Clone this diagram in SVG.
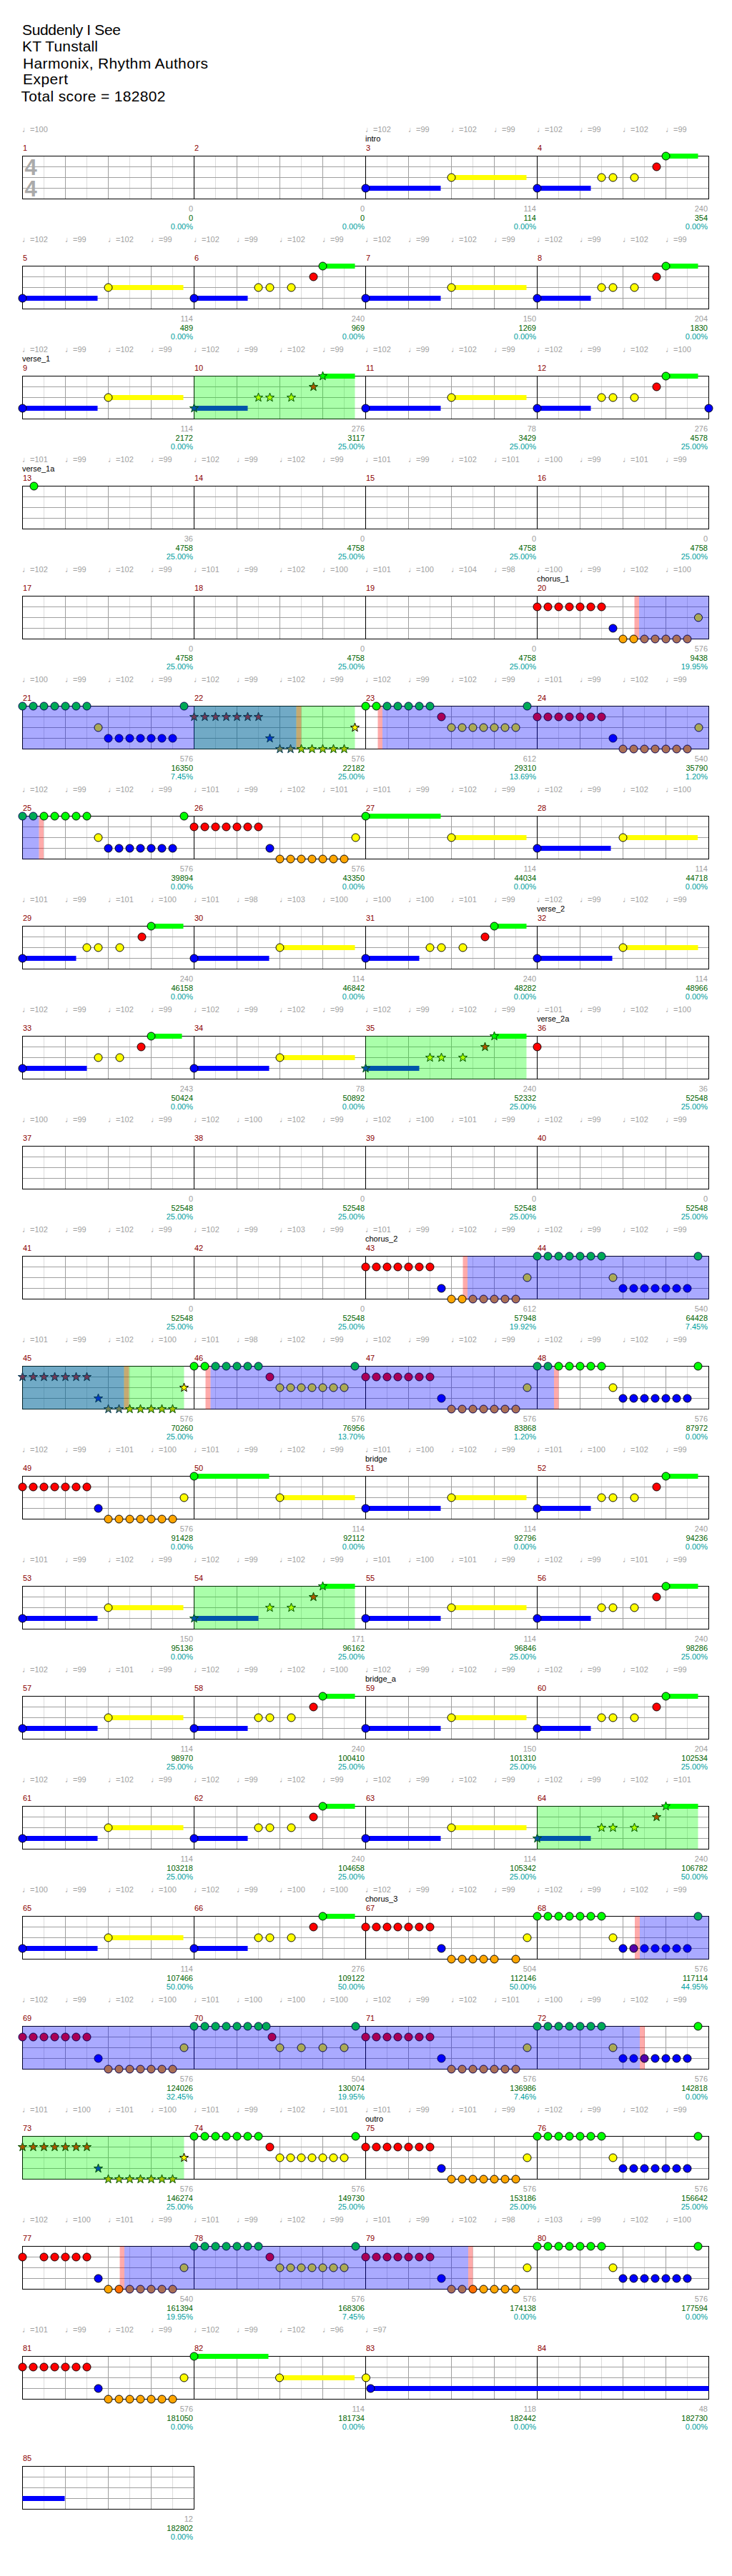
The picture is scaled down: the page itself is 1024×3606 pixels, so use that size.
<svg xmlns="http://www.w3.org/2000/svg" width="1024" height="3606" viewBox="0 0 1024 3606">
<style>
.lt{stroke:#dcdcdc;stroke-width:1;fill:none}
.md{stroke:#a0a0a0;stroke-width:1;fill:none}
.bk{stroke:#000;stroke-width:1;fill:none}
.n{stroke:#000;stroke-width:1}
.g{fill:#00ff00}.r{fill:#ff0000}.y{fill:#ffff00}.b{fill:#0000ff}.o{fill:#ffa500}.op{fill:#ff6e00}.bp{fill:#5500aa}
.gb{fill:#00aa55;stroke:#000055}.rb{fill:#aa0055;stroke:#000055}.yb{fill:#aaaa55;stroke:#000055}.ob{fill:#aa6e55;stroke:#000055}.bb{fill:#0000ff;stroke:#000055}
.sG{fill:#00ff00;stroke:#005500}.sR{fill:#aa5500;stroke:#005500}.sY{fill:#aaff00;stroke:#005500}.sB{fill:#0055aa;stroke:#005500}.sO{fill:#aac300;stroke:#005500}
.tR{fill:#713955;stroke:#003955}.tB{fill:#0039c6;stroke:#003955}.tO{fill:#718255;stroke:#003955}
.sY0{fill:#ffff00;stroke:#000}
.Lg{fill:#00ff00}.Ly{fill:#ffff00}.Lb{fill:#0000ff}.Lbs{fill:#0055aa}
.oG{fill:#00ff00;fill-opacity:.333}.oB{fill:#0000ff;fill-opacity:.333}.oP{fill:#ff0000;fill-opacity:.333}
text{font-family:"Liberation Sans","DejaVu Sans",sans-serif;font-size:11px;fill:#000}
.tm{fill:#a0a0a0}.mn{fill:#8b0000}
.s1{fill:#a0a0a0;text-anchor:end}.s2{fill:#006400;text-anchor:end}.s3{fill:#00a0a0;text-anchor:end}
.hd{font-size:21px}
.ts{font-size:31px;font-weight:bold;fill:#aaaaaa}
</style>
<defs>
<polygon id="st" points="0,-6.5 1.53,-2.1 6.18,-2.01 2.47,0.8 3.82,5.26 0,2.6 -3.82,5.26 -2.47,0.8 -6.18,-2.01 -1.53,-2.1"/>
<g id="c7"><circle r="5.5"/><circle cx="15" r="5.5"/><circle cx="30" r="5.5"/><circle cx="45" r="5.5"/><circle cx="60" r="5.5"/><circle cx="75" r="5.5"/><circle cx="90" r="5.5"/></g>
<g id="s7"><use href="#st"/><use href="#st" x="15"/><use href="#st" x="30"/><use href="#st" x="45"/><use href="#st" x="60"/><use href="#st" x="75"/><use href="#st" x="90"/></g>
<g id="gm">
<path class="lt" d="M30 .5V60.5M90 .5V60.5M150 .5V60.5M210 .5V60.5"/>
<path class="md" d="M60 .5V60.5M120 .5V60.5M180 .5V60.5M0 15.5H240M0 30.5H240M0 45.5H240"/>
</g>
<g id="r4">
<use href="#gm" x="31.5"/><use href="#gm" x="271.5"/><use href="#gm" x="511.5"/><use href="#gm" x="751.5"/>
<path class="bk" d="M271.5 .5V60.5M511.5 .5V60.5M751.5 .5V60.5"/>
<rect class="bk" x="31.5" y=".5" width="960" height="60"/>
</g>
<g id="pA"><rect class="Lb" y="42" width="105" height="7"/><rect class="Ly" x="120" y="27" width="105" height="7"/><circle class="n b" cy="45.5" r="5.5"/><circle class="n y" cx="120" cy="30.5" r="5.5"/></g>
<g id="pB"><rect class="Lb" y="42" width="75" height="7"/><rect class="Lg" x="180" y="-3" width="45" height="7"/><circle class="n b" cy="45.5" r="5.5"/><circle class="n y" cx="90" cy="30.5" r="5.5"/><circle class="n y" cx="106" cy="30.5" r="5.5"/><circle class="n y" cx="136" cy="30.5" r="5.5"/><circle class="n r" cx="167" cy="15.5" r="5.5"/><circle class="n g" cx="180" cy=".5" r="5.5"/></g>
<g id="pC"><rect class="Lb" y="42" width="90" height="7"/><rect class="Lg" x="180" y="-3" width="43" height="7"/><circle class="n b" cy="45.5" r="5.5"/><circle class="n y" cx="106" cy="30.5" r="5.5"/><circle class="n y" cx="136" cy="30.5" r="5.5"/><circle class="n r" cx="166" cy="15.5" r="5.5"/><circle class="n g" cx="180" cy=".5" r="5.5"/></g>
<g id="pS"><rect class="oG" y=".5" width="225" height="60"/><rect class="Lbs" y="42" width="75" height="7"/><rect class="Lg" x="180" y="-3" width="45" height="7"/><use href="#st" class="sB" y="45.5"/><use href="#st" class="sY" x="90" y="30.5"/><use href="#st" class="sY" x="106" y="30.5"/><use href="#st" class="sY" x="136" y="30.5"/><use href="#st" class="sR" x="167" y="15.5"/><use href="#st" class="sG" x="180" y=".5"/></g>
<g id="pS2"><rect class="oG" y=".5" width="225" height="60"/><rect class="Lbs" y="42" width="90" height="7"/><rect class="Lg" x="180" y="-3" width="45" height="7"/><use href="#st" class="sB" y="45.5"/><use href="#st" class="sY" x="106" y="30.5"/><use href="#st" class="sY" x="136" y="30.5"/><use href="#st" class="sR" x="167" y="15.5"/><use href="#st" class="sG" x="180" y=".5"/></g>
<g id="pD"><rect class="Lg" y="-3" width="105" height="7"/><rect class="Ly" x="120" y="27" width="105" height="7"/><circle class="n g" cy=".5" r="5.5"/><circle class="n y" cx="120" cy="30.5" r="5.5"/></g>
<g id="kR"><use href="#c7" class="n r" y="15.5"/><circle class="n b" cx="106" cy="45.5" r="5.5"/><use href="#c7" class="n o" x="120" y="60.5"/><circle class="n y" cx="226" cy="30.5" r="5.5"/></g>
<g id="kG"><use href="#c7" class="n g" y=".5"/><circle class="n y" cx="106" cy="30.5" r="5.5"/><use href="#c7" class="n b" x="120" y="45.5"/><circle class="n g" cx="225" cy=".5" r="5.5"/></g>
<g id="kRb"><use href="#c7" class="n rb" y="15.5"/><circle class="n bb" cx="106" cy="45.5" r="5.5"/><use href="#c7" class="n ob" x="120" y="60.5"/><circle class="n yb" cx="226" cy="30.5" r="5.5"/></g>
</defs>
<rect width="1024" height="3606" fill="#fff"/>
<g id="header">
<text class="hd" x="31" y="49.3" textLength="138" lengthAdjust="spacing">Suddenly I See</text>
<text class="hd" x="31" y="72.3" textLength="106" lengthAdjust="spacing">KT Tunstall</text>
<text class="hd" x="32" y="95.7" textLength="259" lengthAdjust="spacing">Harmonix, Rhythm Authors</text>
<text class="hd" x="32" y="118.3" textLength="63" lengthAdjust="spacing">Expert</text>
<text class="hd" x="29.5" y="141.7" textLength="202" lengthAdjust="spacing">Total score = 182802</text>
</g>

<g id="row1" transform="translate(0,218)">
<use href="#r4"/>
<text class="ts" x="34.5" y="27">4</text><text class="ts" x="34.5" y="57">4</text>
<g id="m3" transform="translate(511.5,0)"><use href="#pA"/></g>
<g id="m4" transform="translate(751.5,0)"><use href="#pB"/></g>
<text class="tm" y="-33"><tspan x="31">♩=100</tspan><tspan x="511">♩=102</tspan><tspan x="571">♩=99</tspan><tspan x="631">♩=102</tspan><tspan x="691">♩=99</tspan><tspan x="751">♩=102</tspan><tspan x="811">♩=99</tspan><tspan x="871">♩=102</tspan><tspan x="931">♩=99</tspan></text>
<text x="511" y="-20">intro</text>
<text class="mn" y="-7"><tspan x="32">1</tspan><tspan x="272">2</tspan><tspan x="512">3</tspan><tspan x="752">4</tspan></text>
<text class="s1" y="78"><tspan x="270">0</tspan><tspan x="510">0</tspan><tspan x="750">114</tspan><tspan x="990">240</tspan></text>
<text class="s2" y="91"><tspan x="270">0</tspan><tspan x="510">0</tspan><tspan x="750">114</tspan><tspan x="990">354</tspan></text>
<text class="s3" y="103"><tspan x="270">0.00%</tspan><tspan x="510">0.00%</tspan><tspan x="750">0.00%</tspan><tspan x="990">0.00%</tspan></text>
</g>

<g id="row2" transform="translate(0,372)">
<use href="#r4"/>
<g id="m5" transform="translate(31.5,0)"><use href="#pA"/></g>
<g id="m6" transform="translate(271.5,0)"><use href="#pB"/></g>
<g id="m7" transform="translate(511.5,0)"><use href="#pA"/></g>
<g id="m8" transform="translate(751.5,0)"><use href="#pB"/></g>
<text class="tm" y="-33"><tspan x="31">♩=102</tspan><tspan x="91">♩=99</tspan><tspan x="151">♩=102</tspan><tspan x="211">♩=99</tspan><tspan x="271">♩=102</tspan><tspan x="331">♩=99</tspan><tspan x="391">♩=102</tspan><tspan x="451">♩=99</tspan><tspan x="511">♩=102</tspan><tspan x="571">♩=99</tspan><tspan x="631">♩=102</tspan><tspan x="691">♩=99</tspan><tspan x="751">♩=102</tspan><tspan x="811">♩=99</tspan><tspan x="871">♩=102</tspan><tspan x="931">♩=99</tspan></text>
<text class="mn" y="-7"><tspan x="32">5</tspan><tspan x="272">6</tspan><tspan x="512">7</tspan><tspan x="752">8</tspan></text>
<text class="s1" y="78"><tspan x="270">114</tspan><tspan x="510">240</tspan><tspan x="750">150</tspan><tspan x="990">204</tspan></text>
<text class="s2" y="91"><tspan x="270">489</tspan><tspan x="510">969</tspan><tspan x="750">1269</tspan><tspan x="990">1830</tspan></text>
<text class="s3" y="103"><tspan x="270">0.00%</tspan><tspan x="510">0.00%</tspan><tspan x="750">0.00%</tspan><tspan x="990">0.00%</tspan></text>
</g>

<g id="row3" transform="translate(0,526)">
<use href="#r4"/>
<g id="m9" transform="translate(31.5,0)"><use href="#pA"/></g>
<g id="m10" transform="translate(271.5,0)"><use href="#pS"/></g>
<g id="m11" transform="translate(511.5,0)"><use href="#pA"/></g>
<g id="m12" transform="translate(751.5,0)"><use href="#pB"/><circle class="n b" cx="240" cy="45.5" r="5.5"/></g>
<text class="tm" y="-33"><tspan x="31">♩=102</tspan><tspan x="91">♩=99</tspan><tspan x="151">♩=102</tspan><tspan x="211">♩=99</tspan><tspan x="271">♩=102</tspan><tspan x="331">♩=99</tspan><tspan x="391">♩=102</tspan><tspan x="451">♩=99</tspan><tspan x="511">♩=102</tspan><tspan x="571">♩=99</tspan><tspan x="631">♩=102</tspan><tspan x="691">♩=99</tspan><tspan x="751">♩=102</tspan><tspan x="811">♩=99</tspan><tspan x="871">♩=102</tspan><tspan x="931">♩=100</tspan></text>
<text x="31" y="-20">verse_1</text>
<text class="mn" y="-7"><tspan x="32">9</tspan><tspan x="272">10</tspan><tspan x="512">11</tspan><tspan x="752">12</tspan></text>
<text class="s1" y="78"><tspan x="270">114</tspan><tspan x="510">276</tspan><tspan x="750">78</tspan><tspan x="990">276</tspan></text>
<text class="s2" y="91"><tspan x="270">2172</tspan><tspan x="510">3117</tspan><tspan x="750">3429</tspan><tspan x="990">4578</tspan></text>
<text class="s3" y="103"><tspan x="270">0.00%</tspan><tspan x="510">25.00%</tspan><tspan x="750">25.00%</tspan><tspan x="990">25.00%</tspan></text>
</g>

<g id="row4" transform="translate(0,680)">
<use href="#r4"/>
<g id="m13" transform="translate(31.5,0)"><circle class="n g" cx="16" cy=".5" r="5.5"/></g>
<text class="tm" y="-33"><tspan x="31">♩=101</tspan><tspan x="91">♩=99</tspan><tspan x="151">♩=102</tspan><tspan x="211">♩=99</tspan><tspan x="271">♩=102</tspan><tspan x="331">♩=99</tspan><tspan x="391">♩=102</tspan><tspan x="451">♩=99</tspan><tspan x="511">♩=101</tspan><tspan x="571">♩=99</tspan><tspan x="631">♩=102</tspan><tspan x="691">♩=101</tspan><tspan x="751">♩=100</tspan><tspan x="811">♩=99</tspan><tspan x="871">♩=101</tspan><tspan x="931">♩=99</tspan></text>
<text x="31" y="-20">verse_1a</text>
<text class="mn" y="-7"><tspan x="32">13</tspan><tspan x="272">14</tspan><tspan x="512">15</tspan><tspan x="752">16</tspan></text>
<text class="s1" y="78"><tspan x="270">36</tspan><tspan x="510">0</tspan><tspan x="750">0</tspan><tspan x="990">0</tspan></text>
<text class="s2" y="91"><tspan x="270">4758</tspan><tspan x="510">4758</tspan><tspan x="750">4758</tspan><tspan x="990">4758</tspan></text>
<text class="s3" y="103"><tspan x="270">25.00%</tspan><tspan x="510">25.00%</tspan><tspan x="750">25.00%</tspan><tspan x="990">25.00%</tspan></text>
</g>

<g id="row5" transform="translate(0,834)">
<use href="#r4"/>
<rect class="oP" x="887.5" y=".5" width="6.5" height="60"/><rect class="oB" x="894" y=".5" width="97.5" height="60"/>
<g id="m20" transform="translate(751.5,0)"><use href="#c7" class="n r" y="15.5"/><circle class="n b" cx="106" cy="45.5" r="5.5"/><circle class="n o" cx="120" cy="60.5" r="5.5"/><circle class="n o" cx="135" cy="60.5" r="5.5"/><circle class="n ob" cx="150" cy="60.5" r="5.5"/><circle class="n ob" cx="165" cy="60.5" r="5.5"/><circle class="n ob" cx="180" cy="60.5" r="5.5"/><circle class="n ob" cx="195" cy="60.5" r="5.5"/><circle class="n ob" cx="210" cy="60.5" r="5.5"/><circle class="n yb" cx="225.5" cy="30.5" r="5.5"/></g>
<text class="tm" y="-33"><tspan x="31">♩=102</tspan><tspan x="91">♩=99</tspan><tspan x="151">♩=102</tspan><tspan x="211">♩=99</tspan><tspan x="271">♩=101</tspan><tspan x="331">♩=99</tspan><tspan x="391">♩=102</tspan><tspan x="451">♩=100</tspan><tspan x="511">♩=101</tspan><tspan x="571">♩=100</tspan><tspan x="631">♩=104</tspan><tspan x="691">♩=98</tspan><tspan x="751">♩=100</tspan><tspan x="811">♩=99</tspan><tspan x="871">♩=102</tspan><tspan x="931">♩=100</tspan></text>
<text x="751" y="-20">chorus_1</text>
<text class="mn" y="-7"><tspan x="32">17</tspan><tspan x="272">18</tspan><tspan x="512">19</tspan><tspan x="752">20</tspan></text>
<text class="s1" y="78"><tspan x="270">0</tspan><tspan x="510">0</tspan><tspan x="750">0</tspan><tspan x="990">576</tspan></text>
<text class="s2" y="91"><tspan x="270">4758</tspan><tspan x="510">4758</tspan><tspan x="750">4758</tspan><tspan x="990">9438</tspan></text>
<text class="s3" y="103"><tspan x="270">25.00%</tspan><tspan x="510">25.00%</tspan><tspan x="750">25.00%</tspan><tspan x="990">19.95%</tspan></text>
</g>

<g id="row6" transform="translate(0,988)">
<use href="#r4"/>
<rect class="oG" x="271.5" y=".5" width="225" height="60"/><rect class="oB" x="31.5" y=".5" width="383" height="60"/><rect class="oP" x="414.5" y=".5" width="7" height="60"/><rect class="oP" x="528.5" y=".5" width="6.5" height="60"/><rect class="oB" x="535" y=".5" width="456.5" height="60"/>
<g id="m21" transform="translate(31.5,0)"><use href="#c7" class="n gb" y=".5"/><circle class="n yb" cx="106" cy="30.5" r="5.5"/><use href="#c7" class="n bb" x="120" y="45.5"/><circle class="n gb" cx="226" cy=".5" r="5.5"/></g>
<g id="m22" transform="translate(271.5,0)"><use href="#s7" class="tR" y="15.5"/><use href="#st" class="tB" x="106" y="45.5"/><use href="#st" class="tO" x="120" y="60.5"/><use href="#st" class="tO" x="135" y="60.5"/><use href="#st" class="sO" x="150" y="60.5"/><use href="#st" class="sO" x="165" y="60.5"/><use href="#st" class="sO" x="180" y="60.5"/><use href="#st" class="sO" x="195" y="60.5"/><use href="#st" class="sO" x="210" y="60.5"/><use href="#st" class="sY0" x="225" y="30.5"/></g>
<g id="m23" transform="translate(511.5,0)"><circle class="n g" cy=".5" r="5.5"/><circle class="n g" cx="15" cy=".5" r="5.5"/><circle class="n gb" cx="30" cy=".5" r="5.5"/><circle class="n gb" cx="45" cy=".5" r="5.5"/><circle class="n gb" cx="60" cy=".5" r="5.5"/><circle class="n gb" cx="75" cy=".5" r="5.5"/><circle class="n gb" cx="90" cy=".5" r="5.5"/><circle class="n rb" cx="106" cy="15.5" r="5.5"/><use href="#c7" class="n yb" x="120" y="30.5"/><circle class="n gb" cx="226" cy=".5" r="5.5"/></g>
<g id="m24" transform="translate(751.5,0)"><use href="#kRb"/></g>
<text class="tm" y="-33"><tspan x="31">♩=100</tspan><tspan x="91">♩=99</tspan><tspan x="151">♩=102</tspan><tspan x="211">♩=99</tspan><tspan x="271">♩=102</tspan><tspan x="331">♩=99</tspan><tspan x="391">♩=102</tspan><tspan x="451">♩=99</tspan><tspan x="511">♩=102</tspan><tspan x="571">♩=99</tspan><tspan x="631">♩=102</tspan><tspan x="691">♩=99</tspan><tspan x="751">♩=101</tspan><tspan x="811">♩=99</tspan><tspan x="871">♩=102</tspan><tspan x="931">♩=99</tspan></text>
<text class="mn" y="-7"><tspan x="32">21</tspan><tspan x="272">22</tspan><tspan x="512">23</tspan><tspan x="752">24</tspan></text>
<text class="s1" y="78"><tspan x="270">576</tspan><tspan x="510">576</tspan><tspan x="750">612</tspan><tspan x="990">540</tspan></text>
<text class="s2" y="91"><tspan x="270">16350</tspan><tspan x="510">22182</tspan><tspan x="750">29310</tspan><tspan x="990">35790</tspan></text>
<text class="s3" y="103"><tspan x="270">7.45%</tspan><tspan x="510">25.00%</tspan><tspan x="750">13.69%</tspan><tspan x="990">1.20%</tspan></text>
</g>

<g id="row7" transform="translate(0,1142)">
<use href="#r4"/>
<rect class="oB" x="31.5" y=".5" width="23" height="60"/><rect class="oP" x="54.5" y=".5" width="6.5" height="60"/>
<g id="m25" transform="translate(31.5,0)"><circle class="n gb" cy=".5" r="5.5"/><circle class="n gb" cx="15" cy=".5" r="5.5"/><circle class="n g" cx="30" cy=".5" r="5.5"/><circle class="n g" cx="45" cy=".5" r="5.5"/><circle class="n g" cx="60" cy=".5" r="5.5"/><circle class="n g" cx="75" cy=".5" r="5.5"/><circle class="n g" cx="90" cy=".5" r="5.5"/><circle class="n y" cx="106" cy="30.5" r="5.5"/><use href="#c7" class="n b" x="120" y="45.5"/><circle class="n g" cx="226" cy=".5" r="5.5"/></g>
<g id="m26" transform="translate(271.5,0)"><use href="#kR"/></g>
<g id="m27" transform="translate(511.5,0)"><use href="#pD"/></g>
<g id="m28" transform="translate(751.5,0)"><rect class="Lb" y="42" width="103" height="7"/><rect class="Ly" x="120" y="27" width="104.5" height="7"/><circle class="n b" cy="45.5" r="5.5"/><circle class="n y" cx="120" cy="30.5" r="5.5"/></g>
<text class="tm" y="-33"><tspan x="31">♩=102</tspan><tspan x="91">♩=99</tspan><tspan x="151">♩=102</tspan><tspan x="211">♩=99</tspan><tspan x="271">♩=101</tspan><tspan x="331">♩=99</tspan><tspan x="391">♩=102</tspan><tspan x="451">♩=101</tspan><tspan x="511">♩=101</tspan><tspan x="571">♩=99</tspan><tspan x="631">♩=102</tspan><tspan x="691">♩=99</tspan><tspan x="751">♩=102</tspan><tspan x="811">♩=99</tspan><tspan x="871">♩=102</tspan><tspan x="931">♩=100</tspan></text>
<text class="mn" y="-7"><tspan x="32">25</tspan><tspan x="272">26</tspan><tspan x="512">27</tspan><tspan x="752">28</tspan></text>
<text class="s1" y="78"><tspan x="270">576</tspan><tspan x="510">576</tspan><tspan x="750">114</tspan><tspan x="990">114</tspan></text>
<text class="s2" y="91"><tspan x="270">39894</tspan><tspan x="510">43350</tspan><tspan x="750">44034</tspan><tspan x="990">44718</tspan></text>
<text class="s3" y="103"><tspan x="270">0.00%</tspan><tspan x="510">0.00%</tspan><tspan x="750">0.00%</tspan><tspan x="990">0.00%</tspan></text>
</g>

<g id="row8" transform="translate(0,1296)">
<use href="#r4"/>
<g id="m29" transform="translate(31.5,0)"><use href="#pB"/></g>
<g id="m30" transform="translate(271.5,0)"><use href="#pA"/></g>
<g id="m31" transform="translate(511.5,0)"><use href="#pB"/></g>
<g id="m32" transform="translate(751.5,0)"><use href="#pA"/></g>
<text class="tm" y="-33"><tspan x="31">♩=101</tspan><tspan x="91">♩=99</tspan><tspan x="151">♩=101</tspan><tspan x="211">♩=100</tspan><tspan x="271">♩=101</tspan><tspan x="331">♩=98</tspan><tspan x="391">♩=103</tspan><tspan x="451">♩=100</tspan><tspan x="511">♩=100</tspan><tspan x="571">♩=100</tspan><tspan x="631">♩=101</tspan><tspan x="691">♩=99</tspan><tspan x="751">♩=102</tspan><tspan x="811">♩=99</tspan><tspan x="871">♩=102</tspan><tspan x="931">♩=99</tspan></text>
<text x="751" y="-20">verse_2</text>
<text class="mn" y="-7"><tspan x="32">29</tspan><tspan x="272">30</tspan><tspan x="512">31</tspan><tspan x="752">32</tspan></text>
<text class="s1" y="78"><tspan x="270">240</tspan><tspan x="510">114</tspan><tspan x="750">240</tspan><tspan x="990">114</tspan></text>
<text class="s2" y="91"><tspan x="270">46158</tspan><tspan x="510">46842</tspan><tspan x="750">48282</tspan><tspan x="990">48966</tspan></text>
<text class="s3" y="103"><tspan x="270">0.00%</tspan><tspan x="510">0.00%</tspan><tspan x="750">0.00%</tspan><tspan x="990">0.00%</tspan></text>
</g>

<g id="row9" transform="translate(0,1450)">
<use href="#r4"/>
<g id="m33" transform="translate(31.5,0)"><use href="#pC"/></g>
<g id="m34" transform="translate(271.5,0)"><use href="#pA"/></g>
<g id="m35" transform="translate(511.5,0)"><use href="#pS"/></g>
<g id="m36" transform="translate(751.5,0)"><circle class="n r" cy="15.5" r="5.5"/></g>
<text class="tm" y="-33"><tspan x="31">♩=102</tspan><tspan x="91">♩=99</tspan><tspan x="151">♩=102</tspan><tspan x="211">♩=99</tspan><tspan x="271">♩=102</tspan><tspan x="331">♩=99</tspan><tspan x="391">♩=102</tspan><tspan x="451">♩=99</tspan><tspan x="511">♩=102</tspan><tspan x="571">♩=99</tspan><tspan x="631">♩=102</tspan><tspan x="691">♩=99</tspan><tspan x="751">♩=101</tspan><tspan x="811">♩=99</tspan><tspan x="871">♩=102</tspan><tspan x="931">♩=100</tspan></text>
<text x="751" y="-20">verse_2a</text>
<text class="mn" y="-7"><tspan x="32">33</tspan><tspan x="272">34</tspan><tspan x="512">35</tspan><tspan x="752">36</tspan></text>
<text class="s1" y="78"><tspan x="270">243</tspan><tspan x="510">78</tspan><tspan x="750">240</tspan><tspan x="990">36</tspan></text>
<text class="s2" y="91"><tspan x="270">50424</tspan><tspan x="510">50892</tspan><tspan x="750">52332</tspan><tspan x="990">52548</tspan></text>
<text class="s3" y="103"><tspan x="270">0.00%</tspan><tspan x="510">0.00%</tspan><tspan x="750">25.00%</tspan><tspan x="990">25.00%</tspan></text>
</g>

<g id="row10" transform="translate(0,1604)">
<use href="#r4"/>
<text class="tm" y="-33"><tspan x="31">♩=100</tspan><tspan x="91">♩=99</tspan><tspan x="151">♩=102</tspan><tspan x="211">♩=99</tspan><tspan x="271">♩=102</tspan><tspan x="331">♩=100</tspan><tspan x="391">♩=102</tspan><tspan x="451">♩=99</tspan><tspan x="511">♩=102</tspan><tspan x="571">♩=100</tspan><tspan x="631">♩=101</tspan><tspan x="691">♩=99</tspan><tspan x="751">♩=102</tspan><tspan x="811">♩=99</tspan><tspan x="871">♩=102</tspan><tspan x="931">♩=99</tspan></text>
<text class="mn" y="-7"><tspan x="32">37</tspan><tspan x="272">38</tspan><tspan x="512">39</tspan><tspan x="752">40</tspan></text>
<text class="s1" y="78"><tspan x="270">0</tspan><tspan x="510">0</tspan><tspan x="750">0</tspan><tspan x="990">0</tspan></text>
<text class="s2" y="91"><tspan x="270">52548</tspan><tspan x="510">52548</tspan><tspan x="750">52548</tspan><tspan x="990">52548</tspan></text>
<text class="s3" y="103"><tspan x="270">25.00%</tspan><tspan x="510">25.00%</tspan><tspan x="750">25.00%</tspan><tspan x="990">25.00%</tspan></text>
</g>

<g id="row11" transform="translate(0,1758)">
<use href="#r4"/>
<rect class="oP" x="647.5" y=".5" width="6.5" height="60"/><rect class="oB" x="654" y=".5" width="337.5" height="60"/>
<g id="m43" transform="translate(511.5,0)"><use href="#c7" class="n r" y="15.5"/><circle class="n b" cx="106" cy="45.5" r="5.5"/><circle class="n o" cx="120" cy="60.5" r="5.5"/><circle class="n o" cx="135" cy="60.5" r="5.5"/><circle class="n ob" cx="150" cy="60.5" r="5.5"/><circle class="n ob" cx="165" cy="60.5" r="5.5"/><circle class="n ob" cx="180" cy="60.5" r="5.5"/><circle class="n ob" cx="195" cy="60.5" r="5.5"/><circle class="n ob" cx="210" cy="60.5" r="5.5"/><circle class="n yb" cx="226" cy="30.5" r="5.5"/></g>
<g id="m44" transform="translate(751.5,0)"><use href="#c7" class="n gb" y=".5"/><circle class="n yb" cx="106" cy="30.5" r="5.5"/><use href="#c7" class="n bb" x="120" y="45.5"/><circle class="n gb" cx="225" cy=".5" r="5.5"/></g>
<text class="tm" y="-33"><tspan x="31">♩=102</tspan><tspan x="91">♩=99</tspan><tspan x="151">♩=102</tspan><tspan x="211">♩=99</tspan><tspan x="271">♩=102</tspan><tspan x="331">♩=99</tspan><tspan x="391">♩=103</tspan><tspan x="451">♩=99</tspan><tspan x="511">♩=101</tspan><tspan x="571">♩=99</tspan><tspan x="631">♩=102</tspan><tspan x="691">♩=99</tspan><tspan x="751">♩=102</tspan><tspan x="811">♩=99</tspan><tspan x="871">♩=102</tspan><tspan x="931">♩=99</tspan></text>
<text x="511" y="-20">chorus_2</text>
<text class="mn" y="-7"><tspan x="32">41</tspan><tspan x="272">42</tspan><tspan x="512">43</tspan><tspan x="752">44</tspan></text>
<text class="s1" y="78"><tspan x="270">0</tspan><tspan x="510">0</tspan><tspan x="750">612</tspan><tspan x="990">540</tspan></text>
<text class="s2" y="91"><tspan x="270">52548</tspan><tspan x="510">52548</tspan><tspan x="750">57948</tspan><tspan x="990">64428</tspan></text>
<text class="s3" y="103"><tspan x="270">25.00%</tspan><tspan x="510">25.00%</tspan><tspan x="750">19.92%</tspan><tspan x="990">7.45%</tspan></text>
</g>

<g id="row12" transform="translate(0,1912)">
<use href="#r4"/>
<rect class="oG" x="31.5" y=".5" width="226" height="60"/><rect class="oB" x="31.5" y=".5" width="142" height="60"/><rect class="oP" x="173.5" y=".5" width="7" height="60"/><rect class="oP" x="287.5" y=".5" width="7" height="60"/><rect class="oB" x="294.5" y=".5" width="480.5" height="60"/><rect class="oP" x="775" y=".5" width="6.5" height="60"/>
<g id="m45" transform="translate(31.5,0)"><use href="#s7" class="tR" y="15.5"/><use href="#st" class="tB" x="106" y="45.5"/><use href="#st" class="tO" x="120" y="60.5"/><use href="#st" class="tO" x="135" y="60.5"/><use href="#st" class="sO" x="150" y="60.5"/><use href="#st" class="sO" x="165" y="60.5"/><use href="#st" class="sO" x="180" y="60.5"/><use href="#st" class="sO" x="195" y="60.5"/><use href="#st" class="sO" x="210" y="60.5"/><use href="#st" class="sY0" x="226" y="30.5"/></g>
<g id="m46" transform="translate(271.5,0)"><circle class="n g" cy=".5" r="5.5"/><circle class="n g" cx="15" cy=".5" r="5.5"/><circle class="n gb" cx="30" cy=".5" r="5.5"/><circle class="n gb" cx="45" cy=".5" r="5.5"/><circle class="n gb" cx="60" cy=".5" r="5.5"/><circle class="n gb" cx="75" cy=".5" r="5.5"/><circle class="n gb" cx="90" cy=".5" r="5.5"/><circle class="n rb" cx="106" cy="15.5" r="5.5"/><use href="#c7" class="n yb" x="120" y="30.5"/><circle class="n gb" cx="225" cy=".5" r="5.5"/></g>
<g id="m47" transform="translate(511.5,0)"><use href="#kRb"/></g>
<g id="m48" transform="translate(751.5,0)"><circle class="n gb" cy=".5" r="5.5"/><circle class="n gb" cx="15" cy=".5" r="5.5"/><circle class="n g" cx="30" cy=".5" r="5.5"/><circle class="n g" cx="45" cy=".5" r="5.5"/><circle class="n g" cx="60" cy=".5" r="5.5"/><circle class="n g" cx="75" cy=".5" r="5.5"/><circle class="n g" cx="90" cy=".5" r="5.5"/><circle class="n y" cx="106" cy="30.5" r="5.5"/><use href="#c7" class="n b" x="120" y="45.5"/><circle class="n g" cx="225" cy=".5" r="5.5"/></g>
<text class="tm" y="-33"><tspan x="31">♩=101</tspan><tspan x="91">♩=99</tspan><tspan x="151">♩=102</tspan><tspan x="211">♩=100</tspan><tspan x="271">♩=101</tspan><tspan x="331">♩=98</tspan><tspan x="391">♩=102</tspan><tspan x="451">♩=99</tspan><tspan x="511">♩=102</tspan><tspan x="571">♩=99</tspan><tspan x="631">♩=102</tspan><tspan x="691">♩=99</tspan><tspan x="751">♩=102</tspan><tspan x="811">♩=99</tspan><tspan x="871">♩=102</tspan><tspan x="931">♩=99</tspan></text>
<text class="mn" y="-7"><tspan x="32">45</tspan><tspan x="272">46</tspan><tspan x="512">47</tspan><tspan x="752">48</tspan></text>
<text class="s1" y="78"><tspan x="270">576</tspan><tspan x="510">576</tspan><tspan x="750">576</tspan><tspan x="990">576</tspan></text>
<text class="s2" y="91"><tspan x="270">70260</tspan><tspan x="510">76956</tspan><tspan x="750">83868</tspan><tspan x="990">87972</tspan></text>
<text class="s3" y="103"><tspan x="270">25.00%</tspan><tspan x="510">13.70%</tspan><tspan x="750">1.20%</tspan><tspan x="990">0.00%</tspan></text>
</g>

<g id="row13" transform="translate(0,2066)">
<use href="#r4"/>
<g id="m49" transform="translate(31.5,0)"><use href="#kR"/></g>
<g id="m50" transform="translate(271.5,0)"><use href="#pD"/></g>
<g id="m51" transform="translate(511.5,0)"><use href="#pA"/></g>
<g id="m52" transform="translate(751.5,0)"><use href="#pB"/></g>
<text class="tm" y="-33"><tspan x="31">♩=102</tspan><tspan x="91">♩=99</tspan><tspan x="151">♩=101</tspan><tspan x="211">♩=100</tspan><tspan x="271">♩=101</tspan><tspan x="331">♩=99</tspan><tspan x="391">♩=102</tspan><tspan x="451">♩=99</tspan><tspan x="511">♩=101</tspan><tspan x="571">♩=100</tspan><tspan x="631">♩=102</tspan><tspan x="691">♩=99</tspan><tspan x="751">♩=101</tspan><tspan x="811">♩=100</tspan><tspan x="871">♩=102</tspan><tspan x="931">♩=99</tspan></text>
<text x="511" y="-20">bridge</text>
<text class="mn" y="-7"><tspan x="32">49</tspan><tspan x="272">50</tspan><tspan x="512">51</tspan><tspan x="752">52</tspan></text>
<text class="s1" y="78"><tspan x="270">576</tspan><tspan x="510">114</tspan><tspan x="750">114</tspan><tspan x="990">240</tspan></text>
<text class="s2" y="91"><tspan x="270">91428</tspan><tspan x="510">92112</tspan><tspan x="750">92796</tspan><tspan x="990">94236</tspan></text>
<text class="s3" y="103"><tspan x="270">0.00%</tspan><tspan x="510">0.00%</tspan><tspan x="750">0.00%</tspan><tspan x="990">0.00%</tspan></text>
</g>

<g id="row14" transform="translate(0,2220)">
<use href="#r4"/>
<g id="m53" transform="translate(31.5,0)"><use href="#pA"/></g>
<g id="m54" transform="translate(271.5,0)"><use href="#pS2"/></g>
<g id="m55" transform="translate(511.5,0)"><use href="#pA"/></g>
<g id="m56" transform="translate(751.5,0)"><use href="#pB"/></g>
<text class="tm" y="-33"><tspan x="31">♩=101</tspan><tspan x="91">♩=99</tspan><tspan x="151">♩=102</tspan><tspan x="211">♩=99</tspan><tspan x="271">♩=102</tspan><tspan x="331">♩=99</tspan><tspan x="391">♩=102</tspan><tspan x="451">♩=99</tspan><tspan x="511">♩=101</tspan><tspan x="571">♩=100</tspan><tspan x="631">♩=101</tspan><tspan x="691">♩=99</tspan><tspan x="751">♩=102</tspan><tspan x="811">♩=99</tspan><tspan x="871">♩=101</tspan><tspan x="931">♩=99</tspan></text>
<text class="mn" y="-7"><tspan x="32">53</tspan><tspan x="272">54</tspan><tspan x="512">55</tspan><tspan x="752">56</tspan></text>
<text class="s1" y="78"><tspan x="270">150</tspan><tspan x="510">171</tspan><tspan x="750">114</tspan><tspan x="990">240</tspan></text>
<text class="s2" y="91"><tspan x="270">95136</tspan><tspan x="510">96162</tspan><tspan x="750">96846</tspan><tspan x="990">98286</tspan></text>
<text class="s3" y="103"><tspan x="270">0.00%</tspan><tspan x="510">25.00%</tspan><tspan x="750">25.00%</tspan><tspan x="990">25.00%</tspan></text>
</g>

<g id="row15" transform="translate(0,2374)">
<use href="#r4"/>
<g id="m57" transform="translate(31.5,0)"><use href="#pA"/></g>
<g id="m58" transform="translate(271.5,0)"><use href="#pB"/></g>
<g id="m59" transform="translate(511.5,0)"><use href="#pA"/></g>
<g id="m60" transform="translate(751.5,0)"><use href="#pB"/></g>
<text class="tm" y="-33"><tspan x="31">♩=102</tspan><tspan x="91">♩=99</tspan><tspan x="151">♩=101</tspan><tspan x="211">♩=99</tspan><tspan x="271">♩=102</tspan><tspan x="331">♩=99</tspan><tspan x="391">♩=102</tspan><tspan x="451">♩=100</tspan><tspan x="511">♩=102</tspan><tspan x="571">♩=99</tspan><tspan x="631">♩=102</tspan><tspan x="691">♩=99</tspan><tspan x="751">♩=102</tspan><tspan x="811">♩=99</tspan><tspan x="871">♩=102</tspan><tspan x="931">♩=99</tspan></text>
<text x="511" y="-20">bridge_a</text>
<text class="mn" y="-7"><tspan x="32">57</tspan><tspan x="272">58</tspan><tspan x="512">59</tspan><tspan x="752">60</tspan></text>
<text class="s1" y="78"><tspan x="270">114</tspan><tspan x="510">240</tspan><tspan x="750">150</tspan><tspan x="990">204</tspan></text>
<text class="s2" y="91"><tspan x="270">98970</tspan><tspan x="510">100410</tspan><tspan x="750">101310</tspan><tspan x="990">102534</tspan></text>
<text class="s3" y="103"><tspan x="270">25.00%</tspan><tspan x="510">25.00%</tspan><tspan x="750">25.00%</tspan><tspan x="990">25.00%</tspan></text>
</g>

<g id="row16" transform="translate(0,2528)">
<use href="#r4"/>
<g id="m61" transform="translate(31.5,0)"><use href="#pA"/></g>
<g id="m62" transform="translate(271.5,0)"><use href="#pB"/></g>
<g id="m63" transform="translate(511.5,0)"><use href="#pA"/></g>
<g id="m64" transform="translate(751.5,0)"><use href="#pS"/></g>
<text class="tm" y="-33"><tspan x="31">♩=102</tspan><tspan x="91">♩=99</tspan><tspan x="151">♩=102</tspan><tspan x="211">♩=99</tspan><tspan x="271">♩=102</tspan><tspan x="331">♩=99</tspan><tspan x="391">♩=102</tspan><tspan x="451">♩=99</tspan><tspan x="511">♩=102</tspan><tspan x="571">♩=99</tspan><tspan x="631">♩=102</tspan><tspan x="691">♩=99</tspan><tspan x="751">♩=102</tspan><tspan x="811">♩=99</tspan><tspan x="871">♩=102</tspan><tspan x="931">♩=101</tspan></text>
<text class="mn" y="-7"><tspan x="32">61</tspan><tspan x="272">62</tspan><tspan x="512">63</tspan><tspan x="752">64</tspan></text>
<text class="s1" y="78"><tspan x="270">114</tspan><tspan x="510">240</tspan><tspan x="750">114</tspan><tspan x="990">240</tspan></text>
<text class="s2" y="91"><tspan x="270">103218</tspan><tspan x="510">104658</tspan><tspan x="750">105342</tspan><tspan x="990">106782</tspan></text>
<text class="s3" y="103"><tspan x="270">25.00%</tspan><tspan x="510">25.00%</tspan><tspan x="750">25.00%</tspan><tspan x="990">50.00%</tspan></text>
</g>

<g id="row17" transform="translate(0,2682)">
<use href="#r4"/>
<rect class="oP" x="888" y=".5" width="7" height="60"/><rect class="oB" x="895" y=".5" width="96.5" height="60"/>
<g id="m65" transform="translate(31.5,0)"><use href="#pA"/></g>
<g id="m66" transform="translate(271.5,0)"><use href="#pB"/></g>
<g id="m67" transform="translate(511.5,0)"><use href="#c7" class="n r" y="15.5"/><circle class="n b" cx="106" cy="45.5" r="5.5"/><circle class="n o" cx="120" cy="60.5" r="5.5"/><circle class="n o" cx="135" cy="60.5" r="5.5"/><circle class="n o" cx="150" cy="60.5" r="5.5"/><circle class="n o" cx="165" cy="60.5" r="5.5"/><circle class="n o" cx="180" cy="60.5" r="5.5"/><circle class="n o" cx="210" cy="60.5" r="5.5"/><circle class="n y" cx="226" cy="30.5" r="5.5"/></g>
<g id="m68" transform="translate(751.5,0)"><use href="#c7" class="n g" y=".5"/><circle class="n y" cx="106" cy="30.5" r="5.5"/><circle class="n b" cx="120" cy="45.5" r="5.5"/><circle class="n bp" cx="135" cy="45.5" r="5.5"/><circle class="n bb" cx="150" cy="45.5" r="5.5"/><circle class="n bb" cx="165" cy="45.5" r="5.5"/><circle class="n bb" cx="180" cy="45.5" r="5.5"/><circle class="n bb" cx="195" cy="45.5" r="5.5"/><circle class="n bb" cx="210" cy="45.5" r="5.5"/><circle class="n gb" cx="225" cy=".5" r="5.5"/></g>
<text class="tm" y="-33"><tspan x="31">♩=100</tspan><tspan x="91">♩=99</tspan><tspan x="151">♩=102</tspan><tspan x="211">♩=100</tspan><tspan x="271">♩=102</tspan><tspan x="331">♩=99</tspan><tspan x="391">♩=100</tspan><tspan x="451">♩=100</tspan><tspan x="511">♩=102</tspan><tspan x="571">♩=99</tspan><tspan x="631">♩=102</tspan><tspan x="691">♩=99</tspan><tspan x="751">♩=102</tspan><tspan x="811">♩=99</tspan><tspan x="871">♩=102</tspan><tspan x="931">♩=99</tspan></text>
<text x="511" y="-20">chorus_3</text>
<text class="mn" y="-7"><tspan x="32">65</tspan><tspan x="272">66</tspan><tspan x="512">67</tspan><tspan x="752">68</tspan></text>
<text class="s1" y="78"><tspan x="270">114</tspan><tspan x="510">276</tspan><tspan x="750">504</tspan><tspan x="990">576</tspan></text>
<text class="s2" y="91"><tspan x="270">107466</tspan><tspan x="510">109122</tspan><tspan x="750">112146</tspan><tspan x="990">117114</tspan></text>
<text class="s3" y="103"><tspan x="270">50.00%</tspan><tspan x="510">50.00%</tspan><tspan x="750">50.00%</tspan><tspan x="990">44.95%</tspan></text>
</g>

<g id="row18" transform="translate(0,2836)">
<use href="#r4"/>
<rect class="oB" x="31.5" y=".5" width="863.5" height="60"/><rect class="oP" x="895" y=".5" width="7" height="60"/>
<g id="m69" transform="translate(31.5,0)"><use href="#kRb"/></g>
<g id="m70" transform="translate(271.5,0)"><use href="#c7" class="n gb" y=".5"/><circle class="n gb" cx="101" cy=".5" r="5.5"/><circle class="n rb" cx="109" cy="15.5" r="5.5"/><circle class="n yb" cx="120" cy="30.5" r="5.5"/><circle class="n yb" cx="150" cy="30.5" r="5.5"/><circle class="n yb" cx="180" cy="30.5" r="5.5"/><circle class="n yb" cx="210" cy="30.5" r="5.5"/><circle class="n gb" cx="226" cy=".5" r="5.5"/></g>
<g id="m71" transform="translate(511.5,0)"><use href="#kRb"/></g>
<g id="m72" transform="translate(751.5,0)"><use href="#c7" class="n gb" y=".5"/><circle class="n yb" cx="106" cy="30.5" r="5.5"/><circle class="n bb" cx="120" cy="45.5" r="5.5"/><circle class="n bb" cx="135" cy="45.5" r="5.5"/><circle class="n bp" cx="150" cy="45.5" r="5.5"/><circle class="n b" cx="165" cy="45.5" r="5.5"/><circle class="n b" cx="180" cy="45.5" r="5.5"/><circle class="n b" cx="195" cy="45.5" r="5.5"/><circle class="n b" cx="210" cy="45.5" r="5.5"/><circle class="n g" cx="225" cy=".5" r="5.5"/></g>
<text class="tm" y="-33"><tspan x="31">♩=102</tspan><tspan x="91">♩=99</tspan><tspan x="151">♩=102</tspan><tspan x="211">♩=100</tspan><tspan x="271">♩=101</tspan><tspan x="331">♩=100</tspan><tspan x="391">♩=100</tspan><tspan x="451">♩=100</tspan><tspan x="511">♩=102</tspan><tspan x="571">♩=99</tspan><tspan x="631">♩=102</tspan><tspan x="691">♩=101</tspan><tspan x="751">♩=100</tspan><tspan x="811">♩=99</tspan><tspan x="871">♩=102</tspan><tspan x="931">♩=99</tspan></text>
<text class="mn" y="-7"><tspan x="32">69</tspan><tspan x="272">70</tspan><tspan x="512">71</tspan><tspan x="752">72</tspan></text>
<text class="s1" y="78"><tspan x="270">576</tspan><tspan x="510">504</tspan><tspan x="750">576</tspan><tspan x="990">576</tspan></text>
<text class="s2" y="91"><tspan x="270">124026</tspan><tspan x="510">130074</tspan><tspan x="750">136986</tspan><tspan x="990">142818</tspan></text>
<text class="s3" y="103"><tspan x="270">32.45%</tspan><tspan x="510">19.95%</tspan><tspan x="750">7.46%</tspan><tspan x="990">0.00%</tspan></text>
</g>

<g id="row19" transform="translate(0,2990)">
<use href="#r4"/>
<rect class="oG" x="31.5" y=".5" width="226" height="60"/>
<g id="m73" transform="translate(31.5,0)"><use href="#s7" class="sR" y="15.5"/><use href="#st" class="sB" x="106" y="45.5"/><use href="#s7" class="sO" x="120" y="60.5"/><use href="#st" class="sY0" x="226" y="30.5"/></g>
<g id="m74" transform="translate(271.5,0)"><use href="#c7" class="n g" y=".5"/><circle class="n r" cx="106" cy="15.5" r="5.5"/><use href="#c7" class="n y" x="120" y="30.5"/><circle class="n g" cx="226" cy=".5" r="5.5"/></g>
<g id="m75" transform="translate(511.5,0)"><use href="#kR"/></g>
<g id="m76" transform="translate(751.5,0)"><use href="#kG"/></g>
<text class="tm" y="-33"><tspan x="31">♩=101</tspan><tspan x="91">♩=100</tspan><tspan x="151">♩=101</tspan><tspan x="211">♩=100</tspan><tspan x="271">♩=101</tspan><tspan x="331">♩=99</tspan><tspan x="391">♩=102</tspan><tspan x="451">♩=101</tspan><tspan x="511">♩=101</tspan><tspan x="571">♩=99</tspan><tspan x="631">♩=101</tspan><tspan x="691">♩=99</tspan><tspan x="751">♩=102</tspan><tspan x="811">♩=99</tspan><tspan x="871">♩=102</tspan><tspan x="931">♩=99</tspan></text>
<text x="511" y="-20">outro</text>
<text class="mn" y="-7"><tspan x="32">73</tspan><tspan x="272">74</tspan><tspan x="512">75</tspan><tspan x="752">76</tspan></text>
<text class="s1" y="78"><tspan x="270">576</tspan><tspan x="510">576</tspan><tspan x="750">576</tspan><tspan x="990">576</tspan></text>
<text class="s2" y="91"><tspan x="270">146274</tspan><tspan x="510">149730</tspan><tspan x="750">153186</tspan><tspan x="990">156642</tspan></text>
<text class="s3" y="103"><tspan x="270">25.00%</tspan><tspan x="510">25.00%</tspan><tspan x="750">25.00%</tspan><tspan x="990">25.00%</tspan></text>
</g>

<g id="row20" transform="translate(0,3144)">
<use href="#r4"/>
<rect class="oP" x="167.5" y=".5" width="6.5" height="60"/><rect class="oB" x="174" y=".5" width="481" height="60"/><rect class="oP" x="655" y=".5" width="6.5" height="60"/>
<g id="m77" transform="translate(31.5,0)"><circle class="n r" cy="15.5" r="5.5"/><circle class="n r" cx="30" cy="15.5" r="5.5"/><circle class="n r" cx="45" cy="15.5" r="5.5"/><circle class="n r" cx="60" cy="15.5" r="5.5"/><circle class="n r" cx="75" cy="15.5" r="5.5"/><circle class="n r" cx="90" cy="15.5" r="5.5"/><circle class="n b" cx="106" cy="45.5" r="5.5"/><circle class="n o" cx="120" cy="60.5" r="5.5"/><circle class="n op" cx="135" cy="60.5" r="5.5"/><circle class="n ob" cx="150" cy="60.5" r="5.5"/><circle class="n ob" cx="165" cy="60.5" r="5.5"/><circle class="n ob" cx="180" cy="60.5" r="5.5"/><circle class="n ob" cx="195" cy="60.5" r="5.5"/><circle class="n ob" cx="210" cy="60.5" r="5.5"/><circle class="n yb" cx="226" cy="30.5" r="5.5"/></g>
<g id="m78" transform="translate(271.5,0)"><use href="#c7" class="n gb" y=".5"/><circle class="n rb" cx="106" cy="15.5" r="5.5"/><use href="#c7" class="n yb" x="120" y="30.5"/><circle class="n gb" cx="226" cy=".5" r="5.5"/></g>
<g id="m79" transform="translate(511.5,0)"><use href="#c7" class="n rb" y="15.5"/><circle class="n bb" cx="106" cy="45.5" r="5.5"/><circle class="n ob" cx="120" cy="60.5" r="5.5"/><circle class="n ob" cx="135" cy="60.5" r="5.5"/><circle class="n op" cx="150" cy="60.5" r="5.5"/><circle class="n o" cx="165" cy="60.5" r="5.5"/><circle class="n o" cx="180" cy="60.5" r="5.5"/><circle class="n o" cx="195" cy="60.5" r="5.5"/><circle class="n o" cx="210" cy="60.5" r="5.5"/><circle class="n y" cx="226" cy="30.5" r="5.5"/></g>
<g id="m80" transform="translate(751.5,0)"><use href="#kG"/></g>
<text class="tm" y="-33"><tspan x="31">♩=102</tspan><tspan x="91">♩=100</tspan><tspan x="151">♩=101</tspan><tspan x="211">♩=99</tspan><tspan x="271">♩=101</tspan><tspan x="331">♩=99</tspan><tspan x="391">♩=102</tspan><tspan x="451">♩=99</tspan><tspan x="511">♩=101</tspan><tspan x="571">♩=99</tspan><tspan x="631">♩=102</tspan><tspan x="691">♩=98</tspan><tspan x="751">♩=103</tspan><tspan x="811">♩=99</tspan><tspan x="871">♩=102</tspan><tspan x="931">♩=100</tspan></text>
<text class="mn" y="-7"><tspan x="32">77</tspan><tspan x="272">78</tspan><tspan x="512">79</tspan><tspan x="752">80</tspan></text>
<text class="s1" y="78"><tspan x="270">540</tspan><tspan x="510">576</tspan><tspan x="750">576</tspan><tspan x="990">576</tspan></text>
<text class="s2" y="91"><tspan x="270">161394</tspan><tspan x="510">168306</tspan><tspan x="750">174138</tspan><tspan x="990">177594</tspan></text>
<text class="s3" y="103"><tspan x="270">19.95%</tspan><tspan x="510">7.45%</tspan><tspan x="750">0.00%</tspan><tspan x="990">0.00%</tspan></text>
</g>

<g id="row21" transform="translate(0,3298)">
<use href="#r4"/>
<g id="m81" transform="translate(31.5,0)"><use href="#kR"/></g>
<g id="m82" transform="translate(271.5,0)"><rect class="Lg" y="-3" width="104" height="7"/><rect class="Ly" x="119.5" y="27" width="105" height="7"/><circle class="n g" cy=".5" r="5.5"/><circle class="n y" cx="119.5" cy="30.5" r="5.5"/><circle class="n y" cx="240.5" cy="30.5" r="5.5"/></g>
<g id="m83" transform="translate(511.5,0)"><rect class="Lb" x="7" y="42" width="473" height="7"/><circle class="n b" cx="7" cy="45.5" r="5.5"/></g>
<text class="tm" y="-33"><tspan x="31">♩=101</tspan><tspan x="91">♩=99</tspan><tspan x="151">♩=102</tspan><tspan x="211">♩=99</tspan><tspan x="271">♩=102</tspan><tspan x="331">♩=99</tspan><tspan x="391">♩=102</tspan><tspan x="451">♩=96</tspan><tspan x="511">♩=97</tspan></text>
<text class="mn" y="-7"><tspan x="32">81</tspan><tspan x="272">82</tspan><tspan x="512">83</tspan><tspan x="752">84</tspan></text>
<text class="s1" y="78"><tspan x="270">576</tspan><tspan x="510">114</tspan><tspan x="750">118</tspan><tspan x="990">48</tspan></text>
<text class="s2" y="91"><tspan x="270">181050</tspan><tspan x="510">181734</tspan><tspan x="750">182442</tspan><tspan x="990">182730</tspan></text>
<text class="s3" y="103"><tspan x="270">0.00%</tspan><tspan x="510">0.00%</tspan><tspan x="750">0.00%</tspan><tspan x="990">0.00%</tspan></text>
</g>

<g id="row22" transform="translate(0,3452)">
<use href="#gm" x="31.5"/>
<rect class="bk" x="31.5" y=".5" width="240" height="60"/>
<g id="m85" transform="translate(31.5,0)"><rect class="Lb" y="42" width="59" height="7"/></g>
<text class="mn" x="32" y="-7">85</text>
<text class="s1" x="270" y="78">12</text>
<text class="s2" x="270" y="91">182802</text>
<text class="s3" x="270" y="103">0.00%</text>
</g>
</svg>
